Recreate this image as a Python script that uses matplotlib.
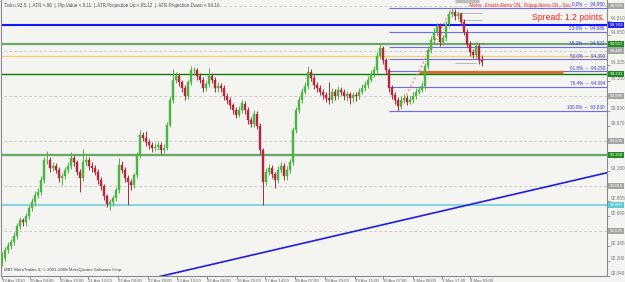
import matplotlib
matplotlib.use("Agg")
import matplotlib.pyplot as plt
import matplotlib.transforms as mtransforms

plt.rcParams['font.family'] = ['Liberation Sans', 'DejaVu Sans']

# hourly USDJPY-style candles (one entry per drawn bar)
closes = [92.23, 92.32, 92.36, 92.40, 92.47, 92.58, 92.64, 92.62, 92.69, 92.77,
          92.84, 92.92, 92.95, 93.08, 93.30, 93.30, 93.21, 93.23, 93.19, 93.10,
          93.12, 93.19, 93.23, 93.32, 93.27, 93.17, 93.10, 93.27, 93.30, 93.23,
          93.21, 93.17, 93.08, 93.01, 92.90, 92.82, 92.84, 92.88, 92.97, 93.24,
          93.19, 93.10, 93.06, 93.02, 93.13, 93.35, 93.57, 93.54, 93.49, 93.46,
          93.43, 93.44, 93.46, 93.40, 93.43, 93.68, 93.95, 94.17, 94.21, 94.14,
          94.08, 93.99, 94.14, 94.27, 94.27, 94.21, 94.17, 94.08, 94.12, 94.21,
          94.17, 94.08, 94.10, 94.08, 93.99, 93.95, 93.89, 93.84, 93.79, 93.84,
          93.91, 93.84, 93.73, 93.69, 93.80, 93.67, 93.40, 93.06, 93.17, 93.21,
          93.14, 93.08, 93.19, 93.23, 93.12, 93.19, 93.27, 93.62, 93.84, 93.95,
          94.04, 94.10, 94.25, 94.19, 94.11, 94.08, 94.04, 94.00, 93.97, 93.95,
          94.04, 93.99, 94.06, 94.04, 93.99, 94.01, 93.97, 94.00, 93.99, 94.04,
          94.08, 94.11, 94.17, 94.23, 94.27, 94.43, 94.51, 94.38, 94.27, 94.08,
          94.00, 93.95, 93.88, 93.95, 93.97, 93.93, 93.95, 93.99, 94.04, 94.06,
          94.10, 94.32, 94.49, 94.60, 94.69, 94.75, 94.58, 94.62, 94.77, 94.88,
          94.91, 94.86, 94.88, 94.80, 94.69, 94.56, 94.47, 94.44, 94.54, 94.38,
          94.36]
highs = [92.30, 92.35, 92.40, 92.44, 92.51, 92.61, 92.68, 92.67, 92.72, 92.81,
         92.88, 92.96, 92.99, 93.12, 93.33, 93.39, 93.33, 93.27, 93.26, 93.22,
         93.16, 93.22, 93.27, 93.38, 93.35, 93.30, 93.20, 93.42, 93.34, 93.33,
         93.27, 93.24, 93.20, 93.11, 93.04, 92.93, 92.87, 92.92, 93.00, 93.32,
         93.28, 93.22, 93.13, 93.09, 93.16, 93.38, 93.62, 93.60, 93.61, 93.52,
         93.49, 93.48, 93.50, 93.49, 93.47, 93.71, 93.98, 94.28, 94.25, 94.24,
         94.17, 94.11, 94.17, 94.32, 94.31, 94.30, 94.24, 94.20, 94.16, 94.30,
         94.24, 94.20, 94.14, 94.13, 94.11, 94.02, 93.98, 93.92, 93.87, 93.88,
         93.95, 93.94, 93.87, 93.76, 93.84, 93.83, 93.70, 93.43, 93.21, 93.25,
         93.24, 93.17, 93.23, 93.27, 93.26, 93.23, 93.31, 93.65, 93.87, 93.99,
         94.08, 94.14, 94.32, 94.28, 94.22, 94.14, 94.11, 94.07, 94.03, 94.14,
         94.08, 94.07, 94.10, 94.09, 94.07, 94.05, 94.04, 94.04, 94.03, 94.08,
         94.12, 94.15, 94.21, 94.27, 94.32, 94.47, 94.56, 94.54, 94.41, 94.30,
         94.11, 94.03, 93.98, 93.99, 94.01, 94.00, 93.99, 94.03, 94.08, 94.10,
         94.14, 94.35, 94.53, 94.64, 94.73, 94.79, 94.78, 94.66, 94.81, 94.92,
         94.95, 94.94, 94.92, 94.91, 94.83, 94.72, 94.59, 94.50, 94.58, 94.57,
         94.44]
lows = [92.14, 92.20, 92.29, 92.33, 92.37, 92.44, 92.55, 92.58, 92.58, 92.66,
        92.74, 92.80, 92.88, 92.92, 93.05, 93.25, 93.17, 93.18, 93.15, 93.06,
        93.02, 93.09, 93.16, 93.20, 93.23, 93.13, 92.95, 93.07, 93.23, 93.19,
        93.17, 93.13, 93.04, 92.97, 92.86, 92.78, 92.75, 92.80, 92.85, 92.94,
        93.15, 93.06, 92.81, 92.97, 92.99, 93.10, 93.32, 93.50, 93.45, 93.42,
        93.38, 93.39, 93.40, 93.36, 93.37, 93.40, 93.65, 93.92, 94.13, 94.10,
        94.04, 93.95, 93.96, 94.11, 94.22, 94.17, 94.13, 94.04, 94.05, 94.09,
        94.13, 94.04, 94.04, 94.04, 93.95, 93.91, 93.85, 93.80, 93.75, 93.76,
        93.81, 93.80, 93.69, 93.65, 93.66, 93.63, 93.36, 92.81, 93.02, 93.13,
        93.10, 92.99, 93.05, 93.15, 93.08, 93.08, 93.15, 93.24, 93.59, 93.81,
        93.92, 94.01, 94.07, 94.15, 94.07, 94.04, 94.00, 93.96, 93.93, 93.91,
        93.92, 93.95, 93.96, 94.00, 93.95, 93.94, 93.90, 93.93, 93.94, 93.96,
        94.01, 94.05, 94.08, 94.14, 94.20, 94.24, 94.40, 94.34, 94.23, 94.04,
        93.96, 93.90, 93.84, 93.85, 93.92, 93.89, 93.90, 93.92, 93.96, 94.01,
        94.03, 94.07, 94.29, 94.46, 94.56, 94.66, 94.54, 94.55, 94.59, 94.74,
        94.85, 94.82, 94.83, 94.76, 94.65, 94.52, 94.43, 94.40, 94.41, 94.34,
        94.32]
first_open = 92.19
opens = [first_open] + closes[:-1]

# right price scale
ytick_vals = [92.040, 92.200, 92.365, 92.525, 92.690, 92.855, 93.015, 93.180, 93.340,
              93.505, 93.670, 93.830, 93.995, 94.160, 94.325, 94.485, 94.650, 94.810, 94.970]
grid_vals = [92.525, 93.015, 93.505, 93.995, 94.485, 94.970]

# time scale labels and the bar they sit on
xtick_bars = [0, 9.3, 19.3, 28.7, 38.7, 48.7, 58.3, 68.3, 78.3, 87.7, 97.7, 107.7,
              117.7, 127, 137, 146.7, 156]
xtick_labels = ['19 Apr 2010', '20 Apr 04:00', '20 Apr 20:00', '21 Apr 12:00', '22 Apr 04:00',
                '22 Apr 20:00', '23 Apr 12:00', '26 Apr 06:00', '26 Apr 22:00', '27 Apr 14:00',
                '28 Apr 07:00', '28 Apr 23:00', '29 Apr 15:00', '30 Apr 07:00', '3 May 00:00',
                '3 May 17:00', '4 May 09:00']

# horizontal support / resistance lines
hline_prices = [94.763, 94.557, 94.426, 94.231, 93.350, 92.807]
hline_colors = ['#1414ff', '#6fa86f', '#f5d36a', '#0b7a0b', '#6aa86a', '#88d5dd']
hline_widths = [1.5, 1.6, 0.9, 1.0, 1.7, 1.5]
hline_boxes = ['#2525ee', '#238c23', None, '#1f8a1f', '#238c23', '#5ccbd4']

# trend line anchors
trend_bars = [50, 202]
trend_prices = [92.01, 93.16]

# fibonacci retracement
fib_low_bar, fib_low = 132, 93.83
fib_high_bar, fib_high = 150, 94.95
fib_start_bar = 129
fib_pcts = [0.0, 23.6, 38.2, 50.0, 61.8, 76.4, 100.0]

# orange rectangle and short grey marker lines
box_price, box_bars = 94.25, [139, 187]
marker_prices = [94.894, 94.818, 94.35]
marker_bars = [[152, 160], [153, 160], [151, 158]]

bg = '#f4f4f1'
fig = plt.figure(figsize=(6.25, 2.82), dpi=100, facecolor=bg)
ax = fig.add_axes([1 / 625, 6 / 282, 606 / 625, 276 / 282], facecolor=bg)
xmax = 201.67
ax.set_xlim(-0.33, xmax)
ax.set_ylim(92.035, 95.035)

# grid
ax.hlines(grid_vals, -1, xmax, colors='#cdbcbc', linewidth=0.6, linestyles=(0, (3, 3)), zorder=1)

# horizontal lines
for p, c, w in zip(hline_prices, hline_colors, hline_widths):
    ax.axhline(p, color=c, linewidth=w, zorder=2)

# trend line
ax.plot(trend_bars, trend_prices, color='#1f1fe0', linewidth=1.2, zorder=2)

# fibonacci
fib_levels = [fib_high - p / 100 * (fib_high - fib_low) for p in fib_pcts]
ax.hlines(fib_levels, fib_start_bar, xmax, colors='#6c6cee', linewidth=0.8, zorder=2)
ax.plot([fib_low_bar, fib_high_bar], [fib_low, fib_high], color='#ff7b7b',
        linewidth=0.8, linestyle=(0, (2, 2)), zorder=3)
for p, lv in zip(fib_pcts, fib_levels):
    ax.text(201, lv + 0.008, f'{p:.1f}%  --  {lv:.3f}', fontsize=3.3, color='#3a3ad8',
            ha='right', va='bottom', zorder=6)

ax.hlines(box_price, box_bars[0], box_bars[1], colors='#c8742e', linewidth=2.3, zorder=3)
for p, (b0, b1) in zip(marker_prices, marker_bars):
    ax.hlines(p, b0, b1, colors='#b8b8b8', linewidth=0.7, zorder=3)
ax.hlines(95.02, 151, 159, colors='#bdbdbd', linewidth=2.5, zorder=3)

# candles
idx = list(range(len(closes)))
cols = ['#4cb443' if c >= o else '#b3273a' for o, c in zip(opens, closes)]
ax.vlines(idx, lows, highs, colors=cols, linewidth=0.7, zorder=4)
ax.bar(idx, [c - o for o, c in zip(opens, closes)], bottom=opens, width=0.75,
       color=cols, edgecolor=cols, linewidth=0.3, zorder=5)

# axes styling
ax.spines['top'].set_visible(False)
for s in ['left', 'right', 'bottom']:
    ax.spines[s].set_color('#8a8a8a')
    ax.spines[s].set_linewidth(0.8)
ax.yaxis.tick_right()
box_prices = grid_vals + [p for p, bc in zip(hline_prices, hline_boxes) if bc]
shown_ticks = [v for v in ytick_vals if min(abs(v - b) for b in box_prices) > 0.045]
ax.set_yticks(shown_ticks)
ax.set_yticklabels([f'{v:.3f}' for v in shown_ticks])
for lbl in ax.get_yticklabels():
    lbl.set_va('bottom')
ax.tick_params(axis='y', length=2, width=0.5, pad=1, labelsize=3.4, colors='#777777')
ax.set_xticks(xtick_bars)
ax.set_xticklabels(xtick_labels, ha='left')
ax.tick_params(axis='x', length=2, width=0.5, pad=0.5, labelsize=3.1, colors='#666666')

# price boxes on the right scale
tr = mtransforms.blended_transform_factory(ax.transAxes, ax.transData)
for g in grid_vals:
    ax.text(1.004, g, f'{g:.3f}', transform=tr, fontsize=3.2, color='white', ha='left',
            va='center', clip_on=False, zorder=10,
            bbox=dict(boxstyle='square,pad=0.25', facecolor='#a5a5a5', edgecolor='none'))
for p, bc in zip(hline_prices, hline_boxes):
    if bc is None:
        continue
    ax.text(1.004, p, f'{p:.3f}', transform=tr, fontsize=3.2, color='white', ha='left',
            va='center', clip_on=False, zorder=10,
            bbox=dict(boxstyle='square,pad=0.25', facecolor=bc, edgecolor='none'))

# texts
fig.text(4 / 625, 1 - 5 / 282,
         'Ticks: 93.5  |  ATR = 86  |  Pip Value = 8.11  |  ATR Projection Up = 95.12  |  ATR Projection Down = 94.16',
         fontsize=3.3, color='#555555', ha='left', va='center')
fig.text(469 / 625, 1 - 6 / 282, 'Alerts:  Emails Alerts ON,  Popup Alerts ON,  Sou',
         fontsize=3.3, color='#ff2222', ha='left', va='center')
fig.text(605 / 625, 1 - 17 / 282, 'Spread: 1.2 points.', fontsize=6.2, color='#ff2020',
         ha='right', va='center')
fig.text(4 / 625, 1 - 270 / 282, 'MBT MetaTrader 4, \u00a9 2001-2008 MetaQuotes Software Corp.',
         fontsize=3.2, color='#444444', ha='left', va='center')

fig.savefig('out.png', dpi=100, facecolor=bg)
